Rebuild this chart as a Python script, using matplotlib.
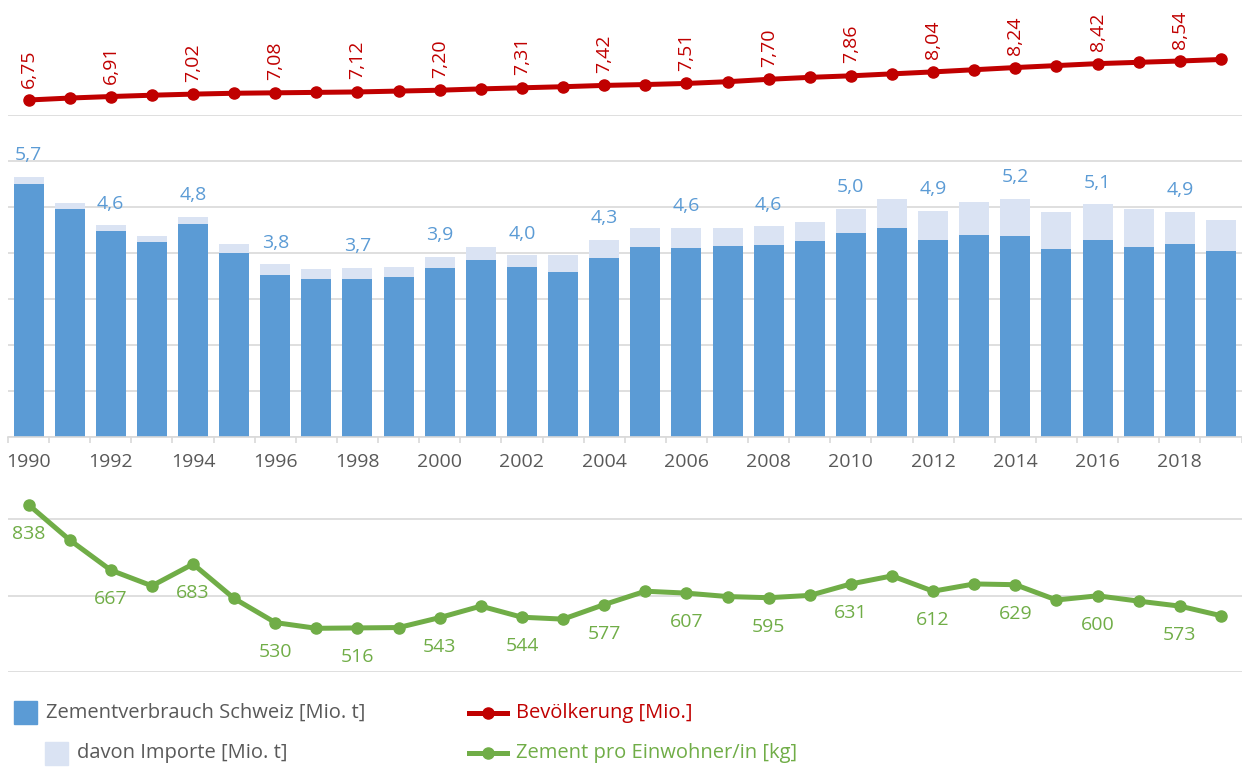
import matplotlib.pyplot as plt
from matplotlib.patches import Rectangle
from matplotlib.lines import Line2D

plt.rcParams["font.family"] = ["Open Sans", "DejaVu Sans"]

years = list(range(1990, 2020))

# Zementverbrauch Schweiz [Mio. t] (whole bar) and davon Importe [Mio. t]
consumption = [5.66, 5.09, 4.61, 4.37, 4.79, 4.20, 3.76, 3.66, 3.68, 3.70,
               3.92, 4.14, 3.96, 3.96, 4.29, 4.55, 4.56, 4.55, 4.59, 4.68,
               4.97, 5.18, 4.92, 5.11, 5.18, 4.90, 5.07, 4.96, 4.90, 4.73]
imports = [0.15, 0.13, 0.12, 0.12, 0.15, 0.19, 0.23, 0.22, 0.24, 0.21,
           0.24, 0.28, 0.26, 0.37, 0.39, 0.41, 0.44, 0.39, 0.41, 0.41,
           0.53, 0.63, 0.63, 0.71, 0.80, 0.80, 0.78, 0.82, 0.69, 0.68]

# Bevölkerung [Mio.]
population = [6.75, 6.84, 6.91, 6.97, 7.02, 7.06, 7.08, 7.10, 7.12, 7.16,
              7.20, 7.26, 7.31, 7.36, 7.42, 7.46, 7.51, 7.59, 7.70, 7.79,
              7.86, 7.95, 8.04, 8.14, 8.24, 8.33, 8.42, 8.48, 8.54, 8.61]

# Zement pro Einwohner/in [kg]
per_capita = [838, 746, 667, 626, 683, 593, 530, 515, 516, 517,
              543, 573, 544, 539, 577, 612, 607, 598, 595, 601,
              631, 652, 612, 631, 629, 589, 600, 586, 573, 548]

BLUE = "#5b9bd5"
LIGHT = "#dae3f3"
RED = "#c00000"
GREEN = "#70ad47"
GRID = "#d9d9d9"
TEXT = "#595959"

W, H = 1242, 769
fig = plt.figure(figsize=(W / 100, H / 100), dpi=100)

x = list(range(len(years)))
left, width = 8 / W, 1233.5 / W

# --- bars ---
ax = fig.add_axes([left, 1 - 437.3 / H, width, 322 / H])
domestic = [c - i for c, i in zip(consumption, imports)]
ax.bar(x, domestic, width=0.73, color=BLUE, zorder=2)
ax.bar(x, imports, bottom=domestic, width=0.73, color=LIGHT, zorder=2)
for i in range(0, len(years), 2):
    ax.annotate(f"{consumption[i]:.1f}".replace(".", ","), (x[i], consumption[i]),
                xytext=(0, 15.5), textcoords="offset points", ha="center", va="center",
                color=BLUE, fontsize=14)
ax.set_xlim(-0.5, len(years) - 0.5)
ax.set_ylim(0, 7)
ax.set_yticks(range(0, 8))
ax.yaxis.grid(True, color=GRID, linewidth=1.2)
ax.set_axisbelow(True)
ax.tick_params(axis="y", length=0, labelleft=False)
ax.set_xticks(x[::2])
ax.set_xticklabels([str(y) for y in years[::2]], color=TEXT, fontsize=14)
ax.set_xticks([i - 0.5 for i in range(len(years) + 1)], minor=True)
ax.tick_params(axis="x", which="major", length=0, pad=11)
ax.tick_params(axis="x", which="minor", length=4, width=1.2, color=GRID)
for s in ["top", "right", "left"]:
    ax.spines[s].set_visible(False)
ax.spines["bottom"].set_color(GRID)
ax.spines["bottom"].set_linewidth(1.2)

# --- population ---
axp = fig.add_axes([left, 1 - 116 / H, width, 116 / H])
axp.plot(x, population, color=RED, linewidth=3.6, marker="o", markersize=8,
         solid_capstyle="round", clip_on=False)
for i in range(0, len(years), 2):
    axp.annotate(f"{population[i]:.2f}".replace(".", ","), (x[i], population[i]),
                 xytext=(0, 9), textcoords="offset points", ha="center", va="bottom",
                 rotation=90, color=RED, fontsize=14, annotation_clip=False)
axp.set_xlim(-0.5, len(years) - 0.5)
axp.set_ylim(6.016, 11.34)
axp.axis("off")

# --- per capita ---
axk = fig.add_axes([left, 1 - 672.3 / H, width, 192.3 / H])
axk.plot(x, per_capita, color=GREEN, linewidth=3.6, marker="o", markersize=8,
         zorder=3, clip_on=False)
for i in range(0, len(years), 2):
    axk.annotate(str(per_capita[i]), (x[i], per_capita[i]),
                 xytext=(0, -21), textcoords="offset points", ha="center", va="center",
                 color=GREEN, fontsize=14)
axk.set_xlim(-0.5, len(years) - 0.5)
axk.set_ylim(400, 902.7)
axk.set_yticks([400, 600, 800])
axk.yaxis.grid(True, color=GRID, linewidth=1.2)
axk.set_axisbelow(True)
axk.tick_params(length=0, labelleft=False, labelbottom=False)
for s in axk.spines.values():
    s.set_visible(False)

# --- legend ---
def fx(px):
    return px / W

def fy(py):
    return 1 - py / H

fig.add_artist(Rectangle((fx(14), fy(724)), 23 / W, 23 / H, color=BLUE,
                         transform=fig.transFigure))
fig.text(fx(46), fy(713), "Zementverbrauch Schweiz [Mio. t]", color=TEXT,
         fontsize=14.5, va="center")
fig.add_artist(Rectangle((fx(44.5), fy(764.5)), 23 / W, 23 / H, color=LIGHT,
                         transform=fig.transFigure))
fig.text(fx(77), fy(753), "davon Importe [Mio. t]", color=TEXT,
         fontsize=14.5, va="center")

for py, col, label in [(713.3, RED, "Bevölkerung [Mio.]"),
                       (753.3, GREEN, "Zement pro Einwohner/in [kg]")]:
    fig.add_artist(Line2D([fx(469), fx(507)], [fy(py), fy(py)], color=col,
                          linewidth=3.6, transform=fig.transFigure))
    fig.add_artist(Line2D([fx(488)], [fy(py)], color=col, marker="o",
                          markersize=8, transform=fig.transFigure))
    fig.text(fx(516), fy(py), label, color=col, fontsize=14.5, va="center")

fig.savefig("out.png", dpi=100)
